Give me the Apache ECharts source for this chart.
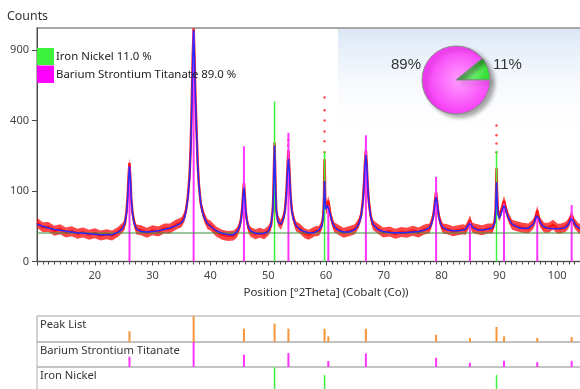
<!DOCTYPE html>
<html>
<head>
<meta charset="utf-8">
<script src="https://cdn.jsdelivr.net/npm/echarts/dist/echarts.min.js"></script>
<style>
  html, body { margin: 0; padding: 0; background: #fff; }
  #main { width: 580px; height: 389px; }
</style>
</head>
<body>
<div id="main"></div>
<script>
// scan positions (°2Theta) with the fitted profile and the measured counts
const twoTheta = [
  10, 11, 12, 13, 14, 15, 16, 17, 18, 19, 20, 21, 22, 23, 24,
  24.8, 25.2, 25.5, 25.7, 25.85, 26, 26.15, 26.3, 26.5, 26.8, 27.2,
  28, 29, 30, 31, 32, 33, 34, 35, 35.5,
  35.8, 36.1, 36.4, 36.6, 36.8, 36.95, 37.1, 37.25, 37.4, 37.6, 37.8, 38, 38.3, 38.6, 39, 39.5, 40,
  41, 42, 43, 44,
  44.6, 45, 45.3, 45.5, 45.65, 45.8, 45.95, 46.1, 46.3, 46.6, 47,
  47.8, 48.5, 49.3, 50,
  50.5, 50.8, 50.9, 51, 51.1, 51.2, 51.3, 51.4, 51.7, 52.2,
  52.6, 52.9, 53.15, 53.35, 53.5, 53.65, 53.85, 54.1, 54.4, 54.8,
  55.5, 56.3, 57, 58, 58.8, 59.3,
  59.55, 59.65, 59.75, 59.85, 59.95, 60.1, 60.25, 60.4, 60.55, 60.75, 61, 61.4,
  62, 63, 64, 65,
  65.7, 66.1, 66.4, 66.6, 66.75, 66.9, 67.05, 67.2, 67.4, 67.7, 68.1,
  68.9, 69.9, 71, 72, 73, 74, 75, 76, 77, 77.9,
  78.25, 78.55, 78.75, 78.9, 79.05, 79.2, 79.35, 79.55, 79.85, 80.25,
  81, 82, 83, 83.7,
  84.1, 84.4, 84.6, 84.75, 84.9, 85.05, 85.2, 85.4, 85.7,
  86.2, 87, 88, 88.8,
  89.2, 89.35, 89.45, 89.5, 89.6, 89.75, 90, 90.3, 90.55, 90.8, 91.05, 91.3, 91.7, 92.2,
  93, 94, 95,
  95.75, 96.05, 96.25, 96.4, 96.55, 96.7, 96.85, 97.05, 97.35, 97.75,
  98.5, 99.3, 100, 100.5,
  101.3, 101.7, 102, 102.2, 102.35, 102.5, 102.65, 102.8, 103, 103.3, 103.7, 104.2
];
const calcCounts = [
  28, 25, 22.5, 20.5, 19.5, 18.5, 17.5, 16.5, 16, 15.5, 15, 14.5, 14.5, 14.5, 17,
  21.5, 29.5, 48, 83, 137.5, 182, 137.5, 83, 48, 29.5, 21.5,
  18, 17.5, 18, 19, 20.5, 22.5, 25.5, 30, 38,
  52, 80, 140, 260, 520, 820, 1075, 820, 540, 340, 190, 118, 72, 50, 37, 29, 25,
  19, 16, 14.5, 14.5,
  18.5, 23, 34, 54, 85, 110, 85, 54, 34, 23, 18.5,
  16, 15.5, 16, 18,
  27, 54, 87, 171, 270, 171, 87, 54, 31, 28,
  35, 50, 91, 167, 212, 167, 91, 50, 35, 26.5,
  20.5, 18, 16.5, 17, 20, 26,
  42, 72, 130, 80, 55, 55, 63, 67, 60, 45, 33, 25,
  20, 17.5, 17.5, 20.5,
  28.5, 42, 72, 122, 186, 228, 186, 122, 72, 42, 28.5,
  20.5, 18, 17, 16.5, 16.5, 17, 17.5, 18, 19.5, 23,
  28, 39, 56, 73, 83, 73, 56, 39, 28, 23,
  20, 19, 19, 20,
  21, 23, 26, 29, 31, 29, 26, 23, 21,
  20, 20, 21, 23,
  30, 50, 100, 126, 80, 45, 38, 46, 56, 63, 56, 46, 35, 28,
  24, 22, 22.5,
  26.5, 31, 37, 42, 44, 42, 37, 31, 26.5, 24,
  22, 22, 21.5, 22,
  22.7, 25, 29, 33, 36.5, 38, 36.5, 33, 29, 25, 22.7, 21
];
const obsCounts = [
  30, 23.5, 24, 19, 21, 17, 18.5, 15.5, 17, 14.5, 16, 13.5, 15, 13.5, 17.5,
  23, 28, 51, 88, 146, 196, 140, 80, 50, 31, 20.5,
  19.5, 16.5, 19.5, 18, 22, 22, 27, 31, 40,
  54, 84, 148, 270, 540, 850, 1090, 830, 560, 350, 196, 122, 70, 52, 38, 28, 26,
  18, 14.5, 13, 13.5,
  17, 24, 36, 57, 90, 124, 88, 52, 35, 22, 17.5,
  15, 16.5, 15, 19,
  26, 56, 92, 176, 285, 168, 90, 52, 33, 27,
  37, 53, 95, 180, 250, 175, 90, 52, 36, 25,
  21.5, 16, 14.5, 18, 19, 27,
  45, 80, 210, 88, 58, 54, 66, 74, 62, 44, 35, 23.5,
  21, 16.5, 18.5, 21,
  30, 44, 76, 128, 195, 248, 190, 118, 74, 43, 27,
  22, 17, 18, 15.5, 17.5, 16.5, 19, 17, 20.5, 22,
  30, 41, 59, 79, 96, 75, 55, 40, 29, 22,
  21, 18.5, 20, 21,
  20, 24, 27, 30, 34, 30, 25, 23, 22,
  21, 19.5, 22, 22,
  32, 56, 120, 175, 92, 48, 41, 50, 62, 74, 60, 47, 36, 27,
  25, 23, 22,
  27, 32, 38, 45, 52, 44, 37, 31, 27, 23,
  23, 27, 22, 21.5,
  23.5, 26, 30, 34, 39, 43, 38, 33, 29, 26, 22, 21.5
];
// lone measured points sitting above the band
const spikeX = [59.75, 59.75, 59.75, 59.75, 59.75, 59.75, 89.5, 89.5, 89.5, 89.5, 53.5, 53.45];
const spikeCounts = [240, 290, 340, 400, 460, 540, 240, 280, 320, 372, 296, 270];

// constant background level of the fit
const bgX = [10, 104.2];
const bgCounts = [16.3, 16.3];

// reference patterns
const bstPos = [26.0, 37.1, 45.8, 53.5, 60.4, 66.9, 79.05, 84.9, 90.8, 96.55, 102.5];
const bstCounts = [182, 1070, 267, 333, 62, 320, 144, 31, 67, 40, 64];
const feniPos = [51.1, 59.75, 89.5];
const feniCounts = [515, 243, 246];
const peakPos = [26.0, 37.1, 45.8, 51.1, 53.5, 59.75, 60.4, 66.9, 79.05, 84.9, 89.5, 90.8, 96.55, 102.5];
const peakCounts = [185, 1089, 289, 545, 289, 285, 52, 285, 86, 26, 363, 52, 26, 40];

// phase quantification
const phaseNames = ['Iron Nickel', 'Barium Strontium Titanate'];
const phaseFractions = [11.0, 89.0];

// y tick labels (square root scale)
const yTickCounts = [0, 100, 400, 900];

const FONT = '"Noto Sans", "Liberation Sans", sans-serif';
const GREEN = '#3cf23c';
const MAGENTA = '#ff33ff';
const BAND = 5; // half thickness of the scatter cloud, px

// pick a font size so a text spans the width it has in the original
const ctx = document.createElement('canvas').getContext('2d');
function fitSize(text, width) {
  ctx.font = '100px ' + FONT;
  return Math.round(100 * width / ctx.measureText(text).width * 10) / 10;
}

var myChart = echarts.init(document.getElementById('main'), null, { renderer: 'canvas' });

const sq = v => Math.sqrt(v);

function sticks(name, pos, counts, color, width, axis, z) {
  return {
    name: name,
    type: 'custom',
    xAxisIndex: axis,
    yAxisIndex: axis,
    z: z,
    silent: true,
    encode: { x: 0, y: 1 },
    data: pos.map((p, i) => [p, sq(counts[i])]),
    renderItem: (params, api) => {
      const top = api.coord([api.value(0), api.value(1)]);
      const base = api.coord([api.value(0), 0]);
      return {
        type: 'line',
        shape: { x1: top[0], y1: base[1], x2: top[0], y2: top[1] },
        style: { stroke: color, lineWidth: width }
      };
    }
  };
}

// the plot runs past the right edge of the window, as in the original
const panel = (top, height, color) => ({
  left: 37, width: 578, top: top, height: height,
  outerBoundsMode: 'none', containLabel: false,
  show: true, borderColor: color, borderWidth: 1
});
const hiddenX = i => ({ type: 'value', gridIndex: i, min: 10, max: 110, show: false });
const hiddenY = i => ({ type: 'value', gridIndex: i, min: 0, max: 'dataMax', show: false });

const xName = 'Position [°2Theta] (Cobalt (Co))';
const legendTexts = phaseNames.map((n, i) => n + ' ' + phaseFractions[i].toFixed(1) + ' %');
const legendSize = fitSize(legendTexts[1], 180);
const panelSize = fitSize(phaseNames[1], 140);

function label(text, x, y, size, color) {
  return { type: 'text', z: 5, x: x, y: y, style: { text: text, font: size + 'px ' + FONT, fill: color, verticalAlign: 'middle' } };
}

var option = {
  animation: false,
  grid: [
    Object.assign(panel(28, 233.5, '#8c8c8c'), { borderWidth: 1.5 }),
    panel(316, 26, '#a5a5a5'),
    panel(342, 25, '#b0b0b0'),
    panel(367, 26, '#b0b0b0')
  ],
  xAxis: [
    {
      type: 'value', gridIndex: 0, min: 10, max: 110, interval: 10,
      name: xName,
      nameLocation: 'middle', nameGap: 23,
      nameTextStyle: { fontFamily: FONT, fontSize: fitSize(xName, 165), color: '#333' },
      axisLine: { lineStyle: { color: '#4a4a4a', width: 1 } },
      axisTick: { length: 4, lineStyle: { color: '#4a4a4a' } },
      minorTick: { show: true, splitNumber: 10, length: 3, lineStyle: { color: '#4a4a4a' } },
      axisLabel: { showMinLabel: false, showMaxLabel: false, margin: 9, fontFamily: FONT, fontSize: 11, color: '#444' },
      splitLine: { show: false }
    },
    hiddenX(1), hiddenX(2), hiddenX(3)
  ],
  yAxis: [
    {
      type: 'value', gridIndex: 0, min: 0, max: 33.1,
      axisLine: { show: true, lineStyle: { color: '#4a4a4a', width: 1 } },
      axisTick: { show: true, length: 5, customValues: yTickCounts.map(sq), lineStyle: { color: '#4a4a4a' } },
      axisLabel: {
        customValues: yTickCounts.map(sq), margin: 8,
        fontFamily: FONT, fontSize: 11, color: '#444',
        formatter: v => String(Math.round(v * v))
      },
      splitLine: { show: false }
    },
    hiddenY(1), hiddenY(2), hiddenY(3)
  ],
  graphic: [
    {
      type: 'rect', z: 1, silent: true,
      shape: { x: 338, y: 29, width: 242, height: 110 },
      style: {
        fill: new echarts.graphic.LinearGradient(0, 0, 0, 1, [
          { offset: 0, color: '#dbe7f6' },
          { offset: 1, color: 'rgba(255,255,255,0)' }
        ])
      }
    },
    label('Counts', 7, 16, fitSize('Counts', 41), '#333'),
    { type: 'rect', z: 5, shape: { x: 37, y: 48, width: 17, height: 17 }, style: { fill: GREEN } },
    { type: 'rect', z: 5, shape: { x: 37, y: 65.5, width: 17, height: 17.5 }, style: { fill: '#ff00ff' } },
    label(legendTexts[0], 56, 57, legendSize, '#222'),
    label(legendTexts[1], 56, 75, legendSize, '#222'),
    label('Peak List', 40, 325, panelSize, '#333'),
    label(phaseNames[1], 40, 350.5, panelSize, '#333'),
    label(phaseNames[0], 40, 376, panelSize, '#333')
  ],
  series: [
    {
      // cloud of measured points: a ribbon around the observed profile
      name: 'Observed cloud', type: 'custom', z: 2, silent: true, clip: true,
      data: [[twoTheta[0], sq(obsCounts[0])]],
      encode: { x: 0, y: 1 },
      renderItem: (params, api) => {
        const upper = twoTheta.map((x, i) => {
          const p = api.coord([x, sq(obsCounts[i])]);
          return [p[0], p[1] - BAND];
        });
        const lower = twoTheta.map((x, i) => {
          const p = api.coord([x, sq(obsCounts[i])]);
          return [p[0], p[1] + BAND];
        }).reverse();
        return {
          type: 'polygon',
          shape: { points: upper.concat(lower) },
          style: { fill: 'rgba(255,10,10,0.75)' }
        };
      }
    },
    {
      name: 'Observed', type: 'line', z: 2, silent: true,
      data: twoTheta.map((x, i) => [x, sq(obsCounts[i])]),
      showSymbol: false,
      lineStyle: { color: '#ff1414', width: 2.5 }
    },
    {
      name: 'Observed spikes', type: 'scatter', z: 2, silent: true,
      data: spikeX.map((x, i) => [x, sq(spikeCounts[i])]),
      symbolSize: 2.5,
      itemStyle: { color: '#ff2020' }
    },
    {
      name: 'Background', type: 'line', z: 3, silent: true,
      data: bgX.map((x, i) => [x, sq(bgCounts[i])]),
      showSymbol: false,
      lineStyle: { color: '#3b8f3b', width: 1.2 }
    },
    sticks(phaseNames[1], bstPos, bstCounts, MAGENTA, 2, 0, 3),
    sticks(phaseNames[0], feniPos, feniCounts, GREEN, 1.5, 0, 3),
    {
      name: 'Calculated', type: 'line', z: 4, silent: true,
      data: twoTheta.map((x, i) => [x, sq(calcCounts[i])]),
      showSymbol: false,
      lineStyle: { color: '#2a2aff', width: 1.5 }
    },
    sticks('Peak List', peakPos, peakCounts, '#f5963a', 2, 1, 3),
    sticks(phaseNames[1] + ' ref', bstPos, bstCounts, MAGENTA, 2, 2, 3),
    sticks(phaseNames[0] + ' ref', feniPos, feniCounts, GREEN, 1.5, 3, 3),
    {
      name: 'Phases', type: 'pie', z: 6, silent: true,
      center: [456, 80], radius: 34,
      startAngle: 39.6, clockwise: true,
      data: phaseNames.map((n, i) => ({ name: n, value: phaseFractions[i] })),
      itemStyle: {
        borderColor: '#8a8a8a', borderWidth: 1,
        shadowBlur: 4, shadowOffsetX: 4, shadowOffsetY: 3, shadowColor: 'rgba(0,0,0,0.35)',
        color: p => p.dataIndex === 0
          ? new echarts.graphic.RadialGradient(0.3, 0.5, 0.9, [{ offset: 0, color: '#9dff9d' }, { offset: 1, color: '#38e038' }])
          : new echarts.graphic.RadialGradient(0.55, 0.5, 0.6, [{ offset: 0, color: '#ff9dff' }, { offset: 1, color: '#f52af5' }])
      },
      label: {
        show: true, position: 'outside',
        formatter: p => Math.round(p.value) + '%',
        fontFamily: '"Liberation Sans", Arial, sans-serif', fontSize: 15, color: '#333'
      },
      labelLine: { show: false },
      labelLayout: p => p.dataIndex === 0
        ? { x: 493, y: 65, align: 'left', verticalAlign: 'middle' }
        : { x: 421, y: 65, align: 'right', verticalAlign: 'middle' }
    }
  ]
};

myChart.setOption(option);
</script>
</body>
</html>
